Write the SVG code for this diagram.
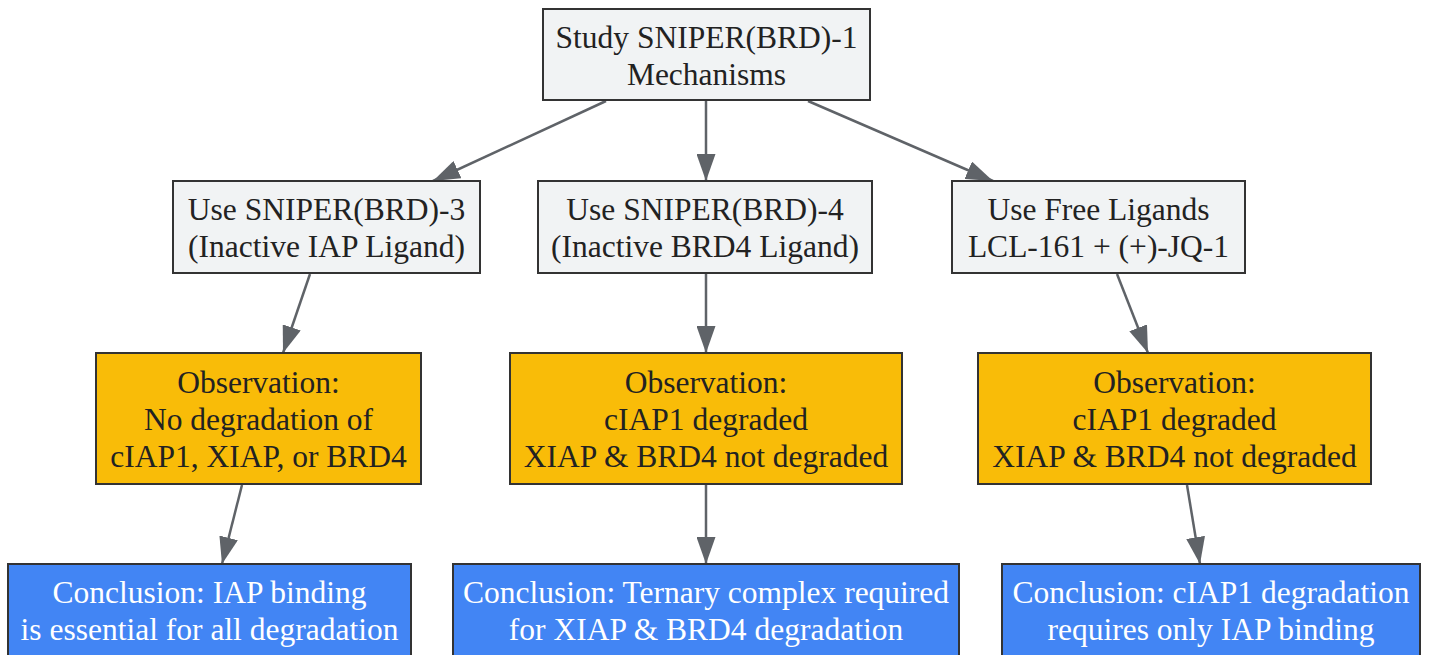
<svg xmlns="http://www.w3.org/2000/svg" width="1430" height="655" viewBox="0 0 1430 655">
<defs>
<marker id="arr" viewBox="0 0 27 19" refX="27" refY="9.5" markerWidth="27" markerHeight="19" markerUnits="userSpaceOnUse" orient="auto">
<path d="M0,0 L27,9.5 L0,19 z" fill="#5f6368"/>
</marker>
<style>
.box{stroke:#333333;stroke-width:2}
.gray{fill:#f1f3f4}
.yel{fill:#f9bc08}
.blue{fill:#4285f4}
text{font-family:"Liberation Serif","Times New Roman",serif;font-size:31.5px;text-anchor:middle;fill:#222222}
.w{fill:#ffffff}
.edge{stroke:#5f6368;stroke-width:2.5;fill:none;marker-end:url(#arr)}
</style>
</defs>
<rect width="1430" height="655" fill="#ffffff"/>
<g id="connectors">
<line class="edge" x1="606" y1="101" x2="433" y2="181"/>
<line class="edge" x1="706" y1="101" x2="706" y2="181"/>
<line class="edge" x1="808" y1="101" x2="993" y2="181"/>
<line class="edge" x1="310" y1="274" x2="283" y2="353"/>
<line class="edge" x1="706" y1="274" x2="706" y2="353"/>
<line class="edge" x1="1117" y1="274" x2="1148" y2="353"/>
<line class="edge" x1="242" y1="485" x2="222" y2="564"/>
<line class="edge" x1="706" y1="485" x2="706" y2="564"/>
<line class="edge" x1="1187" y1="485" x2="1200" y2="564"/>
</g>
<g id="n_study">
<rect class="box gray" x="543" y="9" width="327" height="91"/>
<text x="706.5" y="48">Study SNIPER(BRD)-1</text>
<text x="706.5" y="85">Mechanisms</text>
</g>
<g id="n_brd3">
<rect class="box gray" x="173" y="181" width="307" height="92"/>
<text x="326.5" y="220">Use SNIPER(BRD)-3</text>
<text x="326.5" y="257">(Inactive IAP Ligand)</text>
</g>
<g id="n_brd4">
<rect class="box gray" x="538" y="181" width="334" height="92"/>
<text x="705" y="220">Use SNIPER(BRD)-4</text>
<text x="705" y="257">(Inactive BRD4 Ligand)</text>
</g>
<g id="n_free">
<rect class="box gray" x="952" y="181" width="293" height="92"/>
<text x="1098.5" y="220">Use Free Ligands</text>
<text x="1098.5" y="257">LCL-161 + (+)-JQ-1</text>
</g>
<g id="n_obs1">
<rect class="box yel" x="96" y="353" width="325" height="131"/>
<text x="258.5" y="393">Observation:</text>
<text x="258.5" y="430">No degradation of</text>
<text x="258.5" y="467">cIAP1, XIAP, or BRD4</text>
</g>
<g id="n_obs2">
<rect class="box yel" x="510" y="353" width="392" height="131"/>
<text x="706" y="393">Observation:</text>
<text x="706" y="430">cIAP1 degraded</text>
<text x="706" y="467">XIAP &amp; BRD4 not degraded</text>
</g>
<g id="n_obs3">
<rect class="box yel" x="978" y="353" width="393" height="131"/>
<text x="1174.5" y="393">Observation:</text>
<text x="1174.5" y="430">cIAP1 degraded</text>
<text x="1174.5" y="467">XIAP &amp; BRD4 not degraded</text>
</g>
<g id="n_con1">
<rect class="box blue" x="8" y="564" width="403" height="92"/>
<text class="w" x="209.5" y="603">Conclusion: IAP binding</text>
<text class="w" x="209.5" y="640">is essential for all degradation</text>
</g>
<g id="n_con2">
<rect class="box blue" x="453" y="564" width="506" height="92"/>
<text class="w" x="706" y="603">Conclusion: Ternary complex required</text>
<text class="w" x="706" y="640">for XIAP &amp; BRD4 degradation</text>
</g>
<g id="n_con3">
<rect class="box blue" x="1002" y="564" width="418" height="92"/>
<text class="w" x="1211" y="603">Conclusion: cIAP1 degradation</text>
<text class="w" x="1211" y="640">requires only IAP binding</text>
</g>
</svg>
